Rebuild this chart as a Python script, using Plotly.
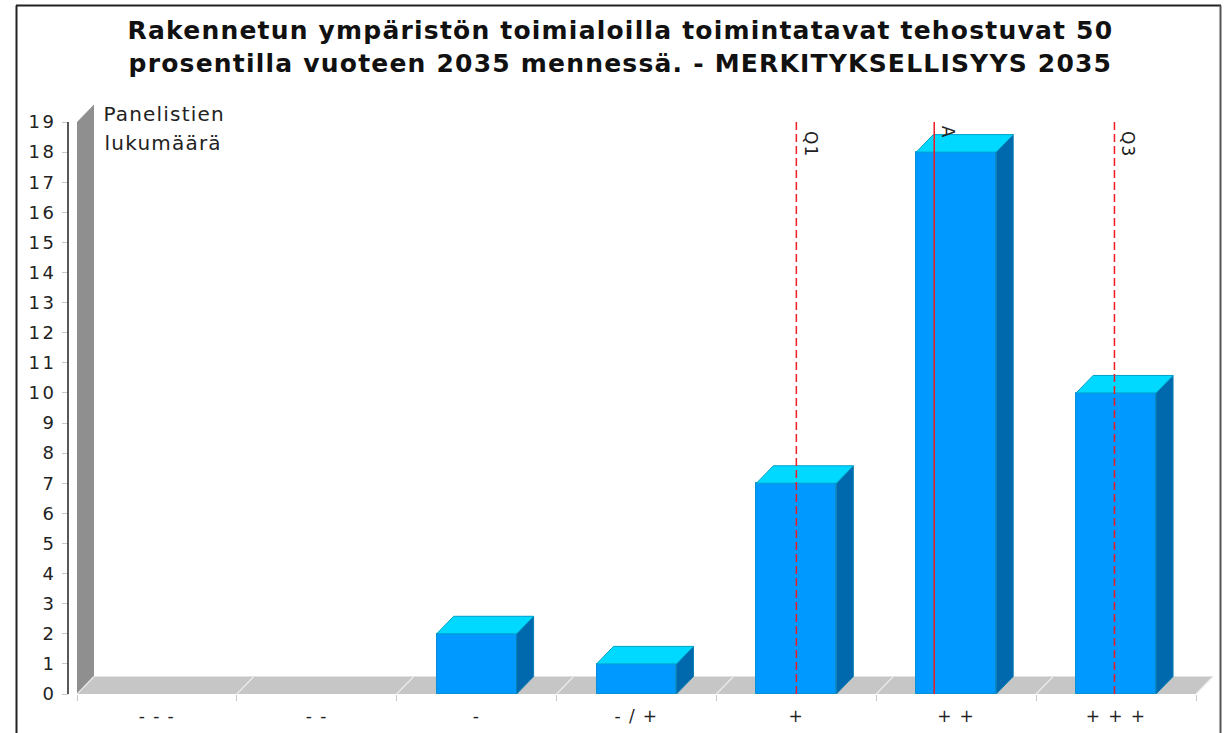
import plotly.graph_objects as go

W, H = 1224, 733
categories = ["- - -", "- -", "-", "- / +", "+", "+ +", "+ + +"]
values = [0, 0, 2, 1, 7, 18, 10]
y_ticks = list(range(0, 20))
q1_pos, mean_pos, q3_pos = 4.0, 4.8625, 5.99
title = "Rakennetun ympäristön toimialoilla toimintatavat tehostuvat 50<br>prosentilla vuoteen 2035 mennessä. - MERKITYKSELLISYYS 2035"
axis_title_lines = ["Panelistien", "lukumäärä"]

# layout in pixels
px_l, px_r, px_t, px_b = 77, 1216, 104, 694
cat_w = (1196 - 77) / 7
unit_h = (694 - 122) / 19
dx = 17 / cat_w
dy = 17.5 / unit_h
x_min, x_max = -0.5, -0.5 + (px_r - px_l) / cat_w
y_max = (px_b - px_t) / unit_h
bar_half = 0.25


def path(pts):
    return "M " + " L ".join(f"{x},{y}" for x, y in pts) + " Z"


shapes = [
    dict(type="path", xref="x", yref="y", layer="below", line=dict(width=0), fillcolor="#8f8f8f",
         path=path([(-0.5, 0), (-0.5 + dx, dy), (-0.5 + dx, 19 + dy), (-0.5, 19)])),
    dict(type="path", xref="x", yref="y", layer="below", line=dict(width=0), fillcolor="#c6c6c6",
         path=path([(-0.5, 0), (6.5, 0), (6.5 + dx, dy), (-0.5 + dx, dy)])),
]
for i in range(0, 8):
    shapes.append(dict(type="line", xref="x", yref="y", layer="below", x0=i - 0.5, y0=0, x1=i - 0.5 + dx, y1=dy,
                       line=dict(color="#ececec", width=1.2)))
shapes.append(dict(type="line", xref="paper", yref="y", layer="below", x0=77 / W, x1=1197 / W, y0=0, y1=0,
                   line=dict(color="#333333", width=2)))
shapes.append(dict(type="line", xref="paper", yref="y", x0=68 / W, x1=68 / W, y0=0, y1=19,
                   line=dict(color="#222222", width=1.5)))
# outer frame
frame_top = 1 - 5.5 / H
shapes.append(dict(type="line", xref="paper", yref="paper", x0=16.5 / W, x1=16.5 / W, y0=0, y1=frame_top,
                   line=dict(color="#222222", width=2)))
shapes.append(dict(type="line", xref="paper", yref="paper", x0=16 / W, x1=1221 / W, y0=frame_top, y1=frame_top,
                   line=dict(color="#222222", width=2)))
shapes.append(dict(type="line", xref="paper", yref="paper", x0=1220.5 / W, x1=1220.5 / W, y0=0, y1=frame_top,
                   line=dict(color="#555555", width=2)))

fig = go.Figure()
bar_x = [i for i, v in enumerate(values) if v > 0]
bar_y = [v for v in values if v > 0]
fig.add_bar(x=bar_x, y=bar_y, width=2 * bar_half, marker=dict(color="#0099ff", line=dict(color="#0a8fd6", width=1)),
            hoverinfo="skip", showlegend=False)

for i, v in zip(bar_x, bar_y):
    l, r = i - bar_half, i + bar_half
    fig.add_scatter(x=[r, r + dx, r + dx, r, r], y=[0, dy, v + dy, v, 0], mode="lines", fill="toself",
                    fillcolor="#0068ac", line=dict(color="#0a7fb5", width=1), hoverinfo="skip", showlegend=False)
    fig.add_scatter(x=[l, r, r + dx, l + dx, l], y=[v, v, v + dy, v + dy, v], mode="lines", fill="toself",
                    fillcolor="#00d9ff", line=dict(color="#00a0c8", width=1), hoverinfo="skip", showlegend=False)

for pos, dash in [(q1_pos, "8px,4px"), (mean_pos, "solid"), (q3_pos, "8px,4px")]:
    fig.add_scatter(x=[pos, pos], y=[0, 19], mode="lines", line=dict(color="#ee1c25", width=1.5, dash=dash),
                    hoverinfo="skip", showlegend=False)

font = "DejaVu Sans"
annots = [
    dict(text="Q1", x=q1_pos, y=18.25, xref="x", yref="y", xshift=15, textangle=90, showarrow=False,
         font=dict(family=font, size=17, color="#222")),
    dict(text="A", x=mean_pos, y=18.65, xref="x", yref="y", xshift=14, textangle=90, showarrow=False,
         font=dict(family=font, size=17, color="#222")),
    dict(text="Q3", x=q3_pos, y=18.25, xref="x", yref="y", xshift=14, textangle=90, showarrow=False,
         font=dict(family=font, size=17, color="#222")),
    dict(text=axis_title_lines[0], x=108 / W, y=1 - 114 / H, xref="paper", yref="paper", xanchor="left", yanchor="middle",
         showarrow=False, font=dict(family=font, size=20, color="#222")),
    dict(text=axis_title_lines[1], x=108 / W, y=1 - 143 / H, xref="paper", yref="paper", xanchor="left", yanchor="middle",
         showarrow=False, font=dict(family=font, size=20, color="#222")),
    dict(text=title, x=620 / W, y=1 - 47 / H, xref="paper", yref="paper", xanchor="center", yanchor="middle",
         align="center", showarrow=False, font=dict(family=font, size=25, color="#111", weight="bold")),
]

fig.update_layout(
    width=W, height=H, margin=dict(l=0, r=0, t=0, b=0, autoexpand=False), paper_bgcolor="white", plot_bgcolor="white",
    showlegend=False, bargap=0, shapes=shapes, annotations=annots,
    xaxis=dict(domain=[px_l / W, px_r / W], range=[x_min, x_max], tickmode="array", tickvals=list(range(7)),
               ticktext=categories, ticks="", showgrid=False, zeroline=False, showline=False, anchor="y",
               automargin=False, tickfont=dict(family=font, size=17, color="#222"), ticklabelstandoff=10,
               minor=dict(tickmode="array", tickvals=[i - 0.5 for i in range(8)], ticks="outside", ticklen=6,
                          tickcolor="#c8c8c8", tickwidth=1, showgrid=False)),
    yaxis=dict(domain=[1 - px_b / H, 1 - px_t / H], range=[0, y_max], tickmode="array", tickvals=y_ticks,
               ticks="outside", ticklen=6, tickcolor="#c8c8c8", tickwidth=1, showgrid=False, zeroline=False,
               showline=False, anchor="free", position=68 / W, automargin=False, ticklabelstandoff=2,
               tickfont=dict(family=font, size=18, color="#222")),
)
css = (".annotation-text{letter-spacing:1.2px;}"
       ".xtick text{letter-spacing:1.4px;}"
       ".ytick text{letter-spacing:2.5px;}")
post = ("document.body.style.margin='0';"
        "var s=document.createElement('style');s.textContent=%r;document.head.appendChild(s);" % css)
fig.write_html("out.html", post_script=post, config={"displayModeBar": False})
